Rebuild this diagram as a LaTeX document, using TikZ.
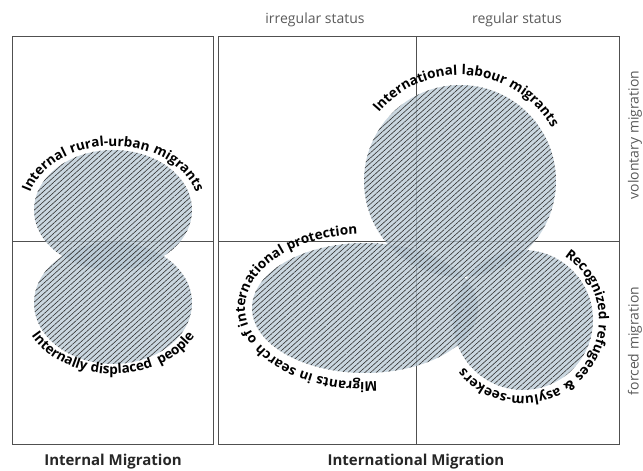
\documentclass[tikz,border=0pt]{standalone}
\usepackage{fontspec}
\setmainfont{Open Sans}
\newfontfamily\curvefam[LetterSpace=6]{Open Sans}
\usepackage{xcolor}
\usepackage{tikz}
\usetikzlibrary{calc}
\usetikzlibrary{patterns.meta,decorations.text}

\definecolor{blobfill}{RGB}{184,201,213}
\definecolor{framegray}{RGB}{80,80,80}
\definecolor{labelgray}{RGB}{90,90,90}
\newcommand{\curvefont}{\curvefam\bfseries\fontsize{13.5}{15}\selectfont}

\tikzset{
  frame/.style={draw=framegray,line width=0.7pt},
  blob/.style={fill=blobfill,fill opacity=0.75},
  hatch/.style={pattern={Lines[angle=42,distance=3.8pt,line width=0.6pt]},
    pattern color=black!80,fill opacity=0.8},
  curvetext/.style={decorate,decoration={text along path,text align=center,
    text={|\curvefont|#1}}},
  toplabel/.style={text=labelgray,font=\fontsize{14}{16}\selectfont},
  sidelabel/.style={toplabel,rotate=90},
  titlelabel/.style={text=black!85,font=\bfseries\fontsize{15}{17}\selectfont}
}

\begin{document}
\begin{tikzpicture}[x=1pt,y=1pt]
\useasboundingbox (0,0) rectangle (643,471);

% Frames
\draw[frame] (12,27) rectangle (213,435);
\draw[frame] (218,27) rectangle (619,435);
\draw[frame] (12,230) -- (213,230);
\draw[frame] (218,230) -- (619,230);
\draw[frame] (416,27) -- (416,435);

% Centres of the groups
\coordinate (rural) at (113,261);
\coordinate (displaced) at (113,168);
\coordinate (labour) at (460,290);
\coordinate (protection) at (365,163);
\coordinate (refugees) at (523,151);

% Hatched areas
\foreach \c/\rx/\ry in {rural/79/60,displaced/79/61,labour/96/96,
    protection/113/65,refugees/70/70} {
  \fill[blob] (\c) ellipse [x radius=\rx,y radius=\ry];
  \fill[hatch] (\c) ellipse [x radius=\rx,y radius=\ry];
}

% Curved labels
\path[curvetext={Internal rural-urban migrants}]
  ($(rural)+(185:86 and 64)$) arc [start angle=185,end angle=-5,x radius=86,y radius=64];
\path[curvetext={Internally displaced {\hspace{3pt}}people}]
  ($(displaced)+(175:92 and 71)$) arc [start angle=175,end angle=365,x radius=92,y radius=71];
\path[curvetext={International labour migrants}]
  ($(labour)+(165:106)$) arc [start angle=165,end angle=5,radius=106];
\path[curvetext={Migrants in search of international protection}]
  ($(protection)+(300:120 and 74)$) arc [start angle=300,end angle=70,x radius=120,y radius=74];
\path[curvetext={Recognized refugees {\&} asylum-seekers}]
  ($(refugees)+(88:76)$) arc [start angle=88,end angle=-172,radius=76];

% Axis labels
\node[toplabel] (irregular) at (315,451) {irregular status};
\node[toplabel] (regular) at (517,451) {regular status};
\node[sidelabel] (voluntary) at (635,336) {volontary migration};
\node[sidelabel] (forced) at (635,130) {forced migration};
\node[titlelabel] (internal) at (113,9) {Internal Migration};
\node[titlelabel] (international) at (416,9) {International Migration};

\end{tikzpicture}
\end{document}
